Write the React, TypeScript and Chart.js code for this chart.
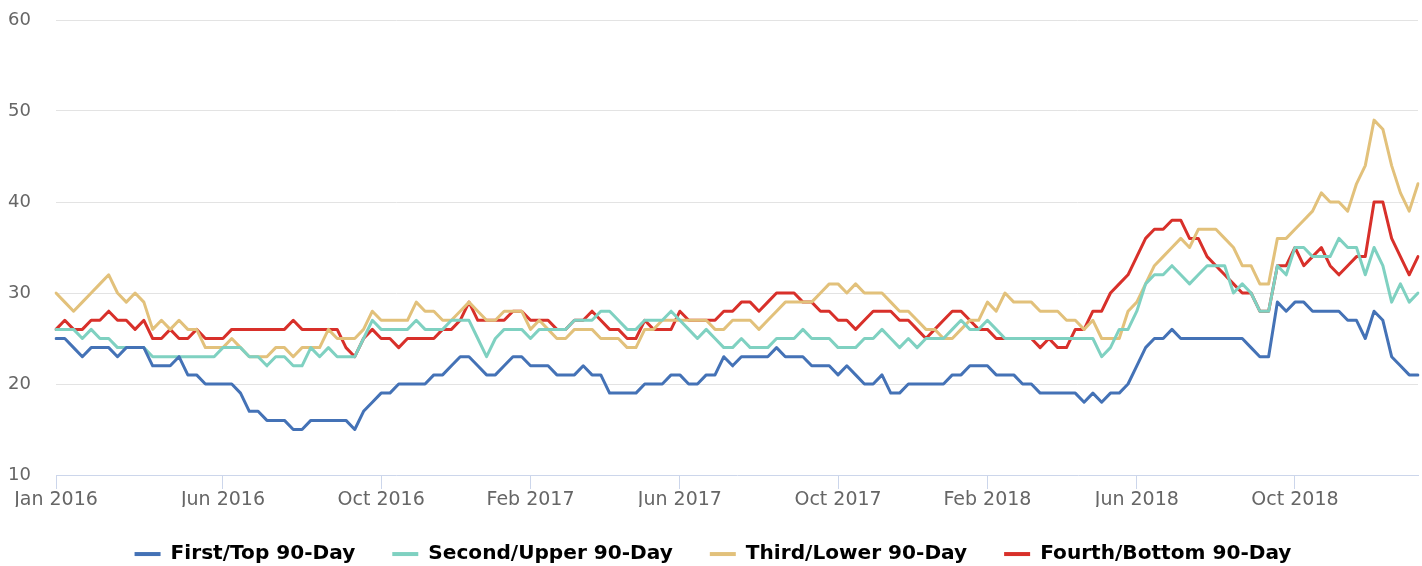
import React, { useEffect, useRef } from "react";
import { Chart, registerables } from "chart.js";

Chart.register(...registerables);

const seriesNames = [
  "First/Top 90-Day",
  "Second/Upper 90-Day",
  "Third/Lower 90-Day",
  "Fourth/Bottom 90-Day",
];

const seriesColors = ["#4472b6", "#7fd1c1", "#e2c17b", "#d8302a"];

const tickLabels = ["Jan 2016", "Jun 2016", "Oct 2016", "Feb 2017", "Jun 2017", "Oct 2017", "Feb 2018", "Jun 2018", "Oct 2018"];
const tickIndex = [0, 19, 37, 54, 71, 89, 106, 123, 141];

const firstTop = [
  25, 25, 24, 23, 24, 24, 24, 23, 24, 24, 24, 22, 22, 22, 23, 21, 21, 20, 20, 20,
  20, 19, 17, 17, 16, 16, 16, 15, 15, 16, 16, 16, 16, 16, 15, 17, 18, 19, 19, 20,
  20, 20, 20, 21, 21, 22, 23, 23, 22, 21, 21, 22, 23, 23, 22, 22, 22, 21, 21, 21,
  22, 21, 21, 19, 19, 19, 19, 20, 20, 20, 21, 21, 20, 20, 21, 21, 23, 22, 23, 23,
  23, 23, 24, 23, 23, 23, 22, 22, 22, 21, 22, 21, 20, 20, 21, 19, 19, 20, 20, 20,
  20, 20, 21, 21, 22, 22, 22, 21, 21, 21, 20, 20, 19, 19, 19, 19, 19, 18, 19, 18,
  19, 19, 20, 22, 24, 25, 25, 26, 25, 25, 25, 25, 25, 25, 25, 25, 24, 23, 23, 29,
  28, 29, 29, 28, 28, 28, 28, 27, 27, 25, 28, 27, 23, 22, 21, 21,
];

const secondUpper = [
  26, 26, 26, 25, 26, 25, 25, 24, 24, 24, 24, 23, 23, 23, 23, 23, 23, 23, 23, 24,
  24, 24, 23, 23, 22, 23, 23, 22, 22, 24, 23, 24, 23, 23, 23, 25, 27, 26, 26, 26,
  26, 27, 26, 26, 26, 27, 27, 27, 25, 23, 25, 26, 26, 26, 25, 26, 26, 26, 26, 27,
  27, 27, 28, 28, 27, 26, 26, 27, 27, 27, 28, 27, 26, 25, 26, 25, 24, 24, 25, 24,
  24, 24, 25, 25, 25, 26, 25, 25, 25, 24, 24, 24, 25, 25, 26, 25, 24, 25, 24, 25,
  25, 25, 26, 27, 26, 26, 27, 26, 25, 25, 25, 25, 25, 25, 25, 25, 25, 25, 25, 23,
  24, 26, 26, 28, 31, 32, 32, 33, 32, 31, 32, 33, 33, 33, 30, 31, 30, 28, 28, 33,
  32, 35, 35, 34, 34, 34, 36, 35, 35, 32, 35, 33, 29, 31, 29, 30,
];

const thirdLower = [
  30, 29, 28, 29, 30, 31, 32, 30, 29, 30, 29, 26, 27, 26, 27, 26, 26, 24, 24, 24,
  25, 24, 23, 23, 23, 24, 24, 23, 24, 24, 24, 26, 25, 25, 25, 26, 28, 27, 27, 27,
  27, 29, 28, 28, 27, 27, 28, 29, 28, 27, 27, 28, 28, 28, 26, 27, 26, 25, 25, 26,
  26, 26, 25, 25, 25, 24, 24, 26, 26, 27, 27, 27, 27, 27, 27, 26, 26, 27, 27, 27,
  26, 27, 28, 29, 29, 29, 29, 30, 31, 31, 30, 31, 30, 30, 30, 29, 28, 28, 27, 26,
  26, 25, 25, 26, 27, 27, 29, 28, 30, 29, 29, 29, 28, 28, 28, 27, 27, 26, 27, 25,
  25, 25, 28, 29, 31, 33, 34, 35, 36, 35, 37, 37, 37, 36, 35, 33, 33, 31, 31, 36,
  36, 37, 38, 39, 41, 40, 40, 39, 42, 44, 49, 48, 44, 41, 39, 42,
];

const fourthBottom = [
  26, 27, 26, 26, 27, 27, 28, 27, 27, 26, 27, 25, 25, 26, 25, 25, 26, 25, 25, 25,
  26, 26, 26, 26, 26, 26, 26, 27, 26, 26, 26, 26, 26, 24, 23, 25, 26, 25, 25, 24,
  25, 25, 25, 25, 26, 26, 27, 29, 27, 27, 27, 27, 28, 28, 27, 27, 27, 26, 26, 27,
  27, 28, 27, 26, 26, 25, 25, 27, 26, 26, 26, 28, 27, 27, 27, 27, 28, 28, 29, 29,
  28, 29, 30, 30, 30, 29, 29, 28, 28, 27, 27, 26, 27, 28, 28, 28, 27, 27, 26, 25,
  26, 27, 28, 28, 27, 26, 26, 25, 25, 25, 25, 25, 24, 25, 24, 24, 26, 26, 28, 28,
  30, 31, 32, 34, 36, 37, 37, 38, 38, 36, 36, 34, 33, 32, 31, 30, 30, 28, 28, 33,
  33, 35, 33, 34, 35, 33, 32, 33, 34, 34, 40, 40, 36, 34, 32, 34,
];

const seriesValues = [firstTop, secondUpper, thirdLower, fourthBottom];

const yMin = 10;
const yMax = 60;
const yStep = 10;

export default function App() {
  const canvasRef = useRef<HTMLCanvasElement | null>(null);

  useEffect(() => {
    const canvas = canvasRef.current;
    if (!canvas) return;
    const labels = firstTop.map((_, i) => {
      const k = tickIndex.indexOf(i);
      return k >= 0 ? tickLabels[k] : "";
    });
    const chart = new Chart(canvas, {
      type: "line",
      data: {
        labels,
        datasets: seriesNames.map((name, i) => ({
          label: name,
          data: seriesValues[i],
          borderColor: seriesColors[i],
          backgroundColor: seriesColors[i],
          borderWidth: 3,
          pointRadius: 0,
          pointHoverRadius: 0,
          tension: 0,
          fill: false,
          borderJoinStyle: "round" as const,
          borderCapStyle: "round" as const,
        })),
      },
      options: {
        animation: false,
        responsive: false,
        events: [],
        layout: { padding: { left: 8, right: 4, top: 20, bottom: 0 } },
        font: { family: "'DejaVu Sans', sans-serif" },
        scales: {
          x: {
            type: "category",
            offset: false,
            afterFit: (scale: any) => {
              scale.height = 32;
            },
            border: { display: true, color: "#ccd6eb", width: 1 },
            grid: {
              display: true,
              drawOnChartArea: false,
              drawTicks: true,
              tickLength: 14,
              color: "#ccd6eb",
            },
            ticks: {
              autoSkip: false,
              maxRotation: 0,
              minRotation: 0,
              padding: 0,
              color: "#666666",
              font: { family: "'DejaVu Sans', sans-serif", size: 19 },
              callback: function (this: any, value: any) {
                const l = this.getLabelForValue(value);
                return l ? l : null;
              },
            },
          },
          y: {
            min: yMin,
            max: yMax,
            afterFit: (scale: any) => {
              scale.width = 48;
            },
            border: { display: false },
            grid: {
              drawTicks: false,
              color: (ctx: any) => (ctx.tick && ctx.tick.value === yMin ? "rgba(0,0,0,0)" : "#e3e3e3"),
              lineWidth: 1,
            },
            ticks: {
              stepSize: yStep,
              padding: 0,
              crossAlign: "far",
              color: "#666666",
              font: { family: "'DejaVu Sans', sans-serif", size: 18 },
            },
          },
        },
        plugins: {
          tooltip: { enabled: false },
          legend: {
            display: true,
            position: "bottom",
            maxHeight: 59,
            labels: {
              boxWidth: 26,
              boxHeight: 4,
              padding: 37,
              color: "#333333",
              font: { family: "'DejaVu Sans', sans-serif", size: 20.1, weight: "bold" },
              generateLabels: (ch: any) =>
                ch.data.datasets.map((ds: any, i: number) => ({
                  text: ds.label,
                  fillStyle: ds.borderColor,
                  strokeStyle: ds.borderColor,
                  lineWidth: 0,
                  hidden: false,
                  datasetIndex: i,
                })),
            },
          },
        },
      } as any,
    });
    return () => chart.destroy();
  }, []);

  return (
    <div style={{ position: "absolute", left: 0, top: 0, width: 1422, height: 566, background: "#ffffff" }}>
      <canvas ref={canvasRef} width={1422} height={566} style={{ display: "block" }} />
    </div>
  );
}
